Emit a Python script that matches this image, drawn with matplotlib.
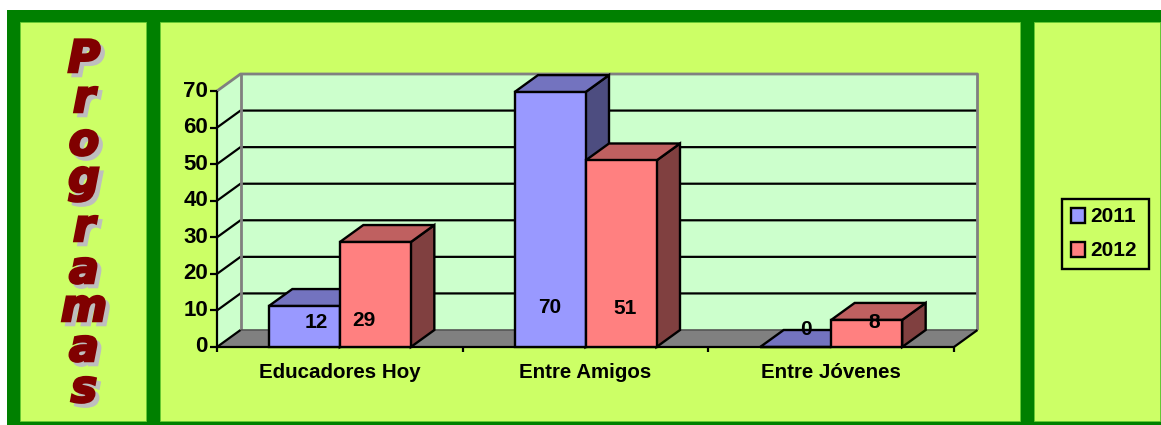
"""
Programas chart: fake 3D column chart on a green panel frame
"""
import matplotlib
matplotlib.use("Agg")
import matplotlib.pyplot as plt
import matplotlib.patheffects as pe
from matplotlib.patches import Polygon, Rectangle

categories = ["Educadores Hoy", "Entre Amigos", "Entre Jóvenes"]
series_names = ["2011", "2012"]
# bar heights, the printed labels differ a little
heights_2011 = [11.2, 69.7, 0]
heights_2012 = [28.7, 51, 7.4]
labels_2011 = ["12", "70", "0"]
labels_2012 = ["29", "51", "8"]
y_ticks = [0, 10, 20, 30, 40, 50, 60, 70]
title_letters = list("Programas")

W, H = 1161, 425
DARK_GREEN = "#008000"
PANEL = "#CCFF66"
WALL = "#CCFFCC"
GREY = "#808080"
BLUE, BLUE_TOP, BLUE_SIDE = "#9999FF", "#7373BF", "#4D4D80"
RED, RED_TOP, RED_SIDE = "#FF8080", "#BF6060", "#804040"
FONT = "Liberation Sans"

fig = plt.figure(figsize=(W / 100, H / 100), dpi=100, facecolor="white")

# background in pixel coordinates
bg = fig.add_axes([0, 0, 1, 1])
bg.set_xlim(0, W)
bg.set_ylim(H, 0)
bg.axis("off")
bg.add_patch(Rectangle((7, 10), 1154, 415, fc=DARK_GREEN, ec="none"))
for x0, x1 in [(20, 146), (160, 1020), (1034, 1160)]:
    bg.add_patch(Rectangle((x0, 22), x1 - x0, 399, fc=PANEL, ec="#66CC33", lw=0.6))

# title letters, one per line, baselines
letter_base = [72, 112, 155, 192, 241, 283, 321, 361, 402]
shadow = [pe.PathPatchEffect(offset=(2.9, -2.9), facecolor="#BEBEBE", edgecolor="#BEBEBE", linewidth=1.8),
          pe.PathPatchEffect(facecolor="#800000", edgecolor="#800000", linewidth=1.8)]
for ch, y in zip(title_letters, letter_base):
    bg.text(84, y, ch, color="#800000", fontsize=32, family="DejaVu Sans", weight="bold",
            style="italic", ha="center", va="baseline", path_effects=shadow)

# chart axes: x0..x1 is the front floor edge, y 0..70 the front scale
x0, x1, y0, y70 = 217, 954, 347, 91
ax = fig.add_axes([x0 / W, 1 - y0 / H, (x1 - x0) / W, (y0 - y70) / H])
ax.set_xlim(-0.5, 2.5)
ax.set_ylim(0, 70)
ax.axis("off")

# depth of the 3D effect in data units
ddx = 23.5 / (x1 - x0) * 3
ddy = 17 / (y0 - y70) * 70
bar_w = 71 / (x1 - x0) * 3
left, right = -0.5, 2.5
top = 70


def poly(pts, fc, ec="black", lw=1.7, z=2):
    ax.add_patch(Polygon(pts, closed=True, fc=fc, ec=ec, lw=lw, zorder=z, clip_on=False, joinstyle="miter"))


def line(xs, ys, c="black", lw=1.6, z=3):
    ax.plot(xs, ys, color=c, lw=lw, zorder=z, clip_on=False, solid_capstyle="butt")


# walls and floor
poly([(left + ddx, ddy), (right + ddx, ddy), (right + ddx, top + ddy), (left + ddx, top + ddy)], WALL, "none", 0, 1)
poly([(left, 0), (left + ddx, ddy), (left + ddx, top + ddy), (left, top)], WALL, "none", 0, 1)
poly([(left, 0), (right, 0), (right + ddx, ddy), (left + ddx, ddy)], GREY, "none", 0, 1)

for t in y_ticks[1:-1]:
    line([left, left + ddx, right + ddx], [t, t + ddy, t + ddy], z=1.5)
line([left, left + ddx, right + ddx, right + ddx], [top, top + ddy, top + ddy, ddy], GREY, 2, z=1.6)
line([left + ddx, left + ddx], [ddy, top + ddy], GREY, 2, z=1.6)
line([left + ddx, right + ddx], [ddy, ddy], "#555555", 1.2, z=1.6)
line([left, left + ddx], [0, ddy], z=1.6)
line([right, right + ddx], [0, ddy], z=1.6)

# axis lines and ticks
line([left, left], [0, 70])
line([left, right], [0, 0])
tick_y = 5 / (y0 - y70) * 70
tick_x = 7 / (x1 - x0) * 3
for t in y_ticks:
    line([left - tick_x, left], [t, t])
    ax.text(left - 1.3 * tick_x, t, str(t), fontsize=16, family=FONT, weight="bold", ha="right", va="center")
for pos in [left, 0.5, 1.5, right]:
    line([pos, pos], [0, -tick_y])
for i, name in enumerate(categories):
    ax.text(i, -7, name, fontsize=14.8, family=FONT, weight="bold", ha="center", va="center")


def bar3d(xl, h, front, top_c, side, z):
    xr = xl + bar_w
    poly([(xr, 0), (xr + ddx, ddy), (xr + ddx, h + ddy), (xr, h)], side, z=z)
    poly([(xl, h), (xl + ddx, h + ddy), (xr + ddx, h + ddy), (xr, h)], top_c, z=z)
    poly([(xl, 0), (xr, 0), (xr, h), (xl, h)], front, z=z)


for i in range(len(categories)):
    bar3d(i - bar_w, heights_2011[i], BLUE, BLUE_TOP, BLUE_SIDE, 4)
    bar3d(i, heights_2012[i], RED, RED_TOP, RED_SIDE, 5)

# label placement around each bar centre, (px right, value units up)
label_pos_2011 = [(11.5, 6.8), (0, 10.9), (10, 4.9)]
label_pos_2012 = [(-11.5, 7.3), (4, 10.4), (8, 6.6)]
px = 3 / (x1 - x0)
for i in range(len(categories)):
    for xl, lab, (off, ly) in [(i - bar_w, labels_2011[i], label_pos_2011[i]),
                               (i, labels_2012[i], label_pos_2012[i])]:
        ax.text(xl + bar_w / 2 + off * px, ly, lab, fontsize=15, family=FONT,
                weight="bold", ha="center", va="center", zorder=8)

# legend box
bg.add_patch(Rectangle((1062, 199), 87, 70, fc=PANEL, ec="black", lw=1.7, zorder=3))
for name, col, y in zip(series_names, [BLUE, RED], [216, 250]):
    bg.add_patch(Rectangle((1071, y - 8), 14, 15, fc=col, ec="black", lw=1.7, zorder=4))
    bg.text(1090, y, name, fontsize=15, family=FONT, weight="bold", va="center", zorder=4)

fig.savefig("out.png", dpi=100)
